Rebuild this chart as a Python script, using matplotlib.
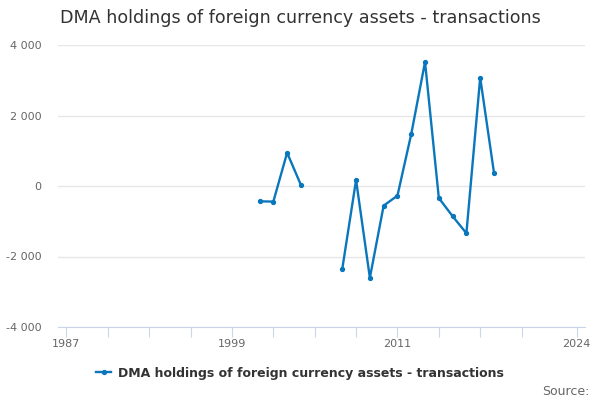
import matplotlib.pyplot as plt
import numpy as np

years = list(range(2001, 2019))
values = [-434, -443, 943, 28, np.nan, np.nan, -2349, 170, -2604, -557,
          -274, 1472, 3519, -340, -858, -1340, 3075, 377]
tick_years = [1987, 1990, 1993, 1996, 1999, 2002, 2005, 2008, 2011, 2014, 2017, 2020, 2024]
label_years = [1987, 1999, 2011, 2024]
y_ticks = [-4000, -2000, 0, 2000, 4000]
y_labels = ['-4 000', '-2 000', '0', '2 000', '4 000']
series_name = 'DMA holdings of foreign currency assets - transactions'

fig = plt.figure(figsize=(6, 4), dpi=100)
ax = fig.add_axes([0.097, 0.1825, 0.878, 0.705])

ax.plot(years, values, color='#0a77bd', linewidth=1.7, marker='o', markersize=2.8,
        label=series_name)

ax.set_xlim(1986.4, 2024.6)
ax.set_ylim(-4000, 4000)
ax.set_yticks(y_ticks)
ax.set_yticklabels(y_labels)
ax.set_xticks(tick_years)
ax.set_xticklabels([str(y) if y in label_years else '' for y in tick_years])

ax.grid(axis='y', color='#e6e6e6', linewidth=1)
ax.set_axisbelow(True)
for s in ['top', 'right', 'left']:
    ax.spines[s].set_visible(False)
ax.spines['bottom'].set_color('#ccd6eb')
ax.tick_params(axis='x', colors='#ccd6eb', length=7, pad=1.5,
               labelcolor='#666666', labelsize=8)
ax.tick_params(axis='y', length=0, labelcolor='#666666', labelsize=8, pad=12)

fig.text(0.1, 0.955, 'DMA holdings of foreign currency assets - transactions',
         fontsize=12.6, color='#333333', va='center')

leg = fig.legend(loc='center', bbox_to_anchor=(0.5, 0.067), frameon=False,
                 prop={'weight': 'bold', 'size': 9}, handlelength=1.2, handletextpad=0.5)
for t in leg.get_texts():
    t.set_color('#333333')

fig.text(0.982, 0.022, 'Source:', fontsize=9, color='#666666', ha='right', va='center')

fig.savefig('out.png')
